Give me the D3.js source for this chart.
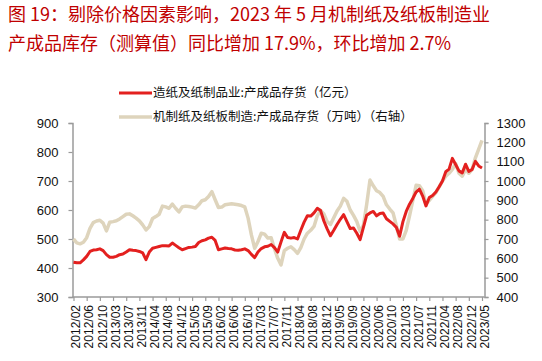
<!DOCTYPE html>
<html>
<head>
<meta charset="utf-8">
<script src="https://cdn.jsdelivr.net/npm/d3@7"></script>
<style>
  body { margin: 0; background: #fff; }
  svg { display: block; }
</style>
</head>
<body>
<svg id="chart"></svg>
<script>
// 月度数据（每年缺 1 月），2012/02 - 2023/05
const months = [];
for (let y = 2012; y <= 2023; y++) {
    for (let m = 2; m <= 12; m++) {
        if (y === 2023 && m > 5) break;
        months.push(y + "/" + String(m).padStart(2, "0"));
    }
}

const tickLabels = ["2012/02", "2012/06", "2012/10", "2013/03", "2013/07", "2013/11",
    "2014/04", "2014/08", "2014/12", "2015/05", "2015/09", "2016/02", "2016/06",
    "2016/10", "2017/03", "2017/07", "2017/11", "2018/04", "2018/08", "2018/12",
    "2019/05", "2019/09", "2020/02", "2020/06", "2020/10", "2021/03", "2021/07",
    "2021/11", "2022/04", "2022/08", "2022/12", "2023/05"];

// 造纸及纸制品业:产成品存货（亿元）
const paperInv = [
    420, 418, 418, 428, 440, 457, 462, 463, 466, 460, 446,
    437, 437, 440, 446, 448, 455, 463, 461, 460, 457, 452,
    429, 455, 468, 471, 474, 477, 477, 476, 486, 478, 470,
    463, 467, 471, 472, 474, 488, 494, 497, 503, 506, 495,
    463, 466, 469, 467, 466, 462, 461, 463, 466, 460, 447,
    436, 455, 467, 473, 475, 481, 470, 455, 490, 523, 505,
    503, 505, 500, 530, 558, 580, 579, 590, 606, 598, 562,
    535, 511, 530, 550, 568, 584, 560, 536, 538, 520, 498,
    540, 582, 590, 595, 580, 588, 590, 570, 561, 552, 540,
    510, 560, 595, 620, 640, 662, 672, 648, 614, 643, 650,
    662, 680, 700, 732, 741, 778, 757, 735, 728, 758, 733,
    740, 768, 752, 745
];

// 机制纸及纸板制造:产成品存货（万吨）（右轴）
const boardInv = [
    700, 680, 675, 683, 707, 755, 785, 793, 797, 782, 742,
    787, 790, 794, 804, 816, 828, 830, 820, 808, 794, 773,
    747, 764, 806, 816, 828, 870, 866, 859, 880, 859, 840,
    866, 870, 868, 865, 860, 877, 898, 903, 920, 945, 903,
    863, 865, 877, 880, 882, 880, 877, 873, 866, 808, 721,
    652, 687, 730, 725, 705, 707, 650, 600, 566, 640, 652,
    660, 645, 626, 655, 700, 730, 745, 765, 820, 848, 830,
    790, 775, 810, 845, 870, 910, 895, 850, 822, 790, 740,
    770, 880, 1005, 975, 950, 940, 920, 877, 855, 835, 770,
    700, 700, 745, 820, 900, 978, 975, 950, 880, 900, 920,
    940, 970, 1000, 1025, 1040, 1060, 1090, 1040, 1025, 1060, 1040,
    1060, 1120, 1165, 1210
];

const leftTicks = [300, 400, 500, 600, 700, 800, 900];
const rightTicks = [400, 500, 600, 700, 800, 900, 1000, 1100, 1200, 1300];

const W = 542, H = 361;
const plot = { left: 72.5, right: 484.5, top: 123, bottom: 297 };

const svg = d3.select("#chart").attr("width", W).attr("height", H);

const cjk = "'Noto Sans CJK SC', 'Noto Sans', sans-serif";
const latin = "'Liberation Sans', Arial, sans-serif";

// title
const title = svg.append("g")
    .attr("fill", "#c00000")
    .style("font-family", cjk)
    .style("font-size", "18px");
title.append("text").attr("x", 8).attr("y", 21)
    .text("图 19：剔除价格因素影响，2023 年 5 月机制纸及纸板制造业");
title.append("text").attr("x", 8).attr("y", 50)
    .text("产成品库存（测算值）同比增加 17.9%，环比增加 2.7%");

const x = d3.scalePoint()
    .domain(months)
    .range([73.5, 482]);

const yLeft = d3.scaleLinear().domain([300, 900]).range([plot.bottom, plot.top]);
const yRight = d3.scaleLinear().domain([400, 1300]).range([plot.bottom, plot.top]);

// axes
const axisColor = "#9a9a9a";

const gLeft = svg.append("g")
    .attr("transform", `translate(${plot.left},0)`)
    .call(d3.axisLeft(yLeft).tickValues(leftTicks).tickFormat(d3.format("d"))
        .tickSize(4).tickPadding(10));
const gRight = svg.append("g")
    .attr("transform", `translate(${plot.right},0)`)
    .call(d3.axisRight(yRight).tickValues(rightTicks).tickFormat(d3.format("d"))
        .tickSize(4).tickPadding(8));
const gBottom = svg.append("g")
    .attr("transform", `translate(0,${plot.bottom})`)
    .call(d3.axisBottom(x).tickValues(tickLabels).tickSize(4).tickPadding(4));

[gLeft, gRight, gBottom].forEach(g => {
    g.select(".domain").attr("stroke", axisColor).attr("stroke-width", 1.5);
    g.selectAll(".tick line").attr("stroke", axisColor).attr("stroke-width", 1.2);
    g.selectAll("text")
        .attr("fill", "#111")
        .style("font-family", latin)
        .style("font-size", "13px");
});
gBottom.select(".domain").attr("d", `M${plot.left},0H${plot.right}`);

gBottom.selectAll("text")
    .style("font-size", "12px")
    .attr("text-anchor", "end")
    .attr("transform", "rotate(-90)")
    .attr("x", -8)
    .attr("y", 2)
    .attr("dy", "0.35em");

// lines
const lineLeft = d3.line()
    .x((d, i) => x(months[i]))
    .y(d => yLeft(d));
const lineRight = d3.line()
    .x((d, i) => x(months[i]))
    .y(d => yRight(d));

svg.append("path")
    .datum(boardInv)
    .attr("fill", "none")
    .attr("stroke", "#ded4bc")
    .attr("stroke-width", 3.5)
    .attr("stroke-linejoin", "round")
    .attr("d", lineRight);

svg.append("path")
    .datum(paperInv)
    .attr("fill", "none")
    .attr("stroke", "#e3201f")
    .attr("stroke-width", 3)
    .attr("stroke-linejoin", "round")
    .attr("d", lineLeft);

// legend
const legendItems = [
    { label: "造纸及纸制品业:产成品存货（亿元）", color: "#e3201f", w: 3 },
    { label: "机制纸及纸板制造:产成品存货（万吨）（右轴）", color: "#ded4bc", w: 3.5 }
];
const legend = svg.append("g");
legendItems.forEach((d, i) => {
    const ly = 93 + i * 24;
    legend.append("line")
        .attr("x1", 119).attr("x2", 152)
        .attr("y1", ly).attr("y2", ly)
        .attr("stroke", d.color)
        .attr("stroke-width", d.w);
    legend.append("text")
        .attr("x", 153).attr("y", ly)
        .attr("dy", "0.35em")
        .attr("fill", "#111")
        .style("font-family", cjk)
        .style("font-size", "12.5px")
        .text(d.label);
});
</script>
</body>
</html>
